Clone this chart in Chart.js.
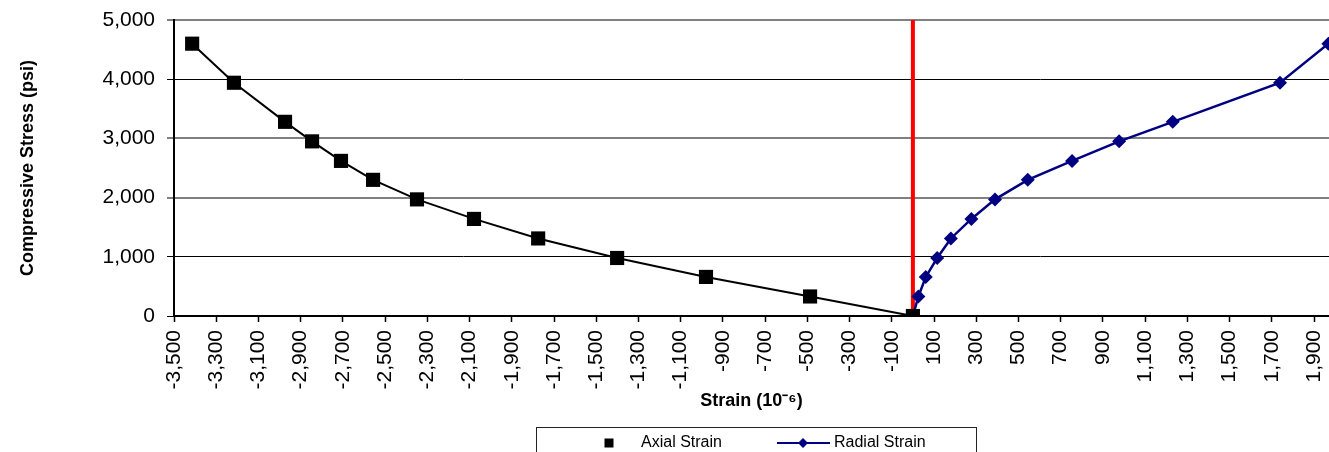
<!DOCTYPE html>
<html>
<head>
<meta charset="utf-8">
<script src="https://cdn.jsdelivr.net/npm/chart.js@4.4.1/dist/chart.umd.min.js"></script>
<style>
  html, body { margin: 0; padding: 0; background: #fff; }
  #wrap { width: 1329px; height: 452px; }
</style>
</head>
<body>
<div id="wrap"><canvas id="grafica" width="1329" height="452"></canvas></div>
<script>
// Stress-strain data
const stressLevels = [4600, 3940, 3280, 2950, 2620, 2300, 1970, 1640, 1310, 980, 660, 330, 0];
const axialStrain = [-3414, -3216, -2974, -2846, -2709, -2557, -2349, -2079, -1775, -1401, -980, -487, 0];
const radialStrain = [1968, 1739, 1231, 977, 754, 544, 389, 277, 180, 115, 61, 26, 0];
const zeroLineY = [0, 5000];
const xTickValues = [-3500, -3300, -3100, -2900, -2700, -2500, -2300, -2100, -1900, -1700,
    -1500, -1300, -1100, -900, -700, -500, -300, -100, 100, 300, 500, 700, 900,
    1100, 1300, 1500, 1700, 1900];
const yTickValues = [0, 1000, 2000, 3000, 4000, 5000];

const FONT = "'Liberation Sans', Arial, sans-serif";
const NAVY = '#000080';

function puntos(xs, ys) {
    return xs.map((x, i) => ({ x, y: ys[i] }));
}

// ===== Legend drawn inside the canvas =====
const leyendaPlugin = {
    id: 'leyenda',
    afterDraw(chart) {
        const ctx = chart.ctx;
        const cy = 443;
        ctx.save();
        ctx.strokeStyle = '#222';
        ctx.lineWidth = 1;
        ctx.strokeRect(536.5, 427.5, 440, 40);

        ctx.fillStyle = '#000';
        ctx.fillRect(604.5, cy - 4.5, 9, 9);

        ctx.strokeStyle = NAVY;
        ctx.lineWidth = 2;
        ctx.beginPath();
        ctx.moveTo(777, cy);
        ctx.lineTo(830, cy);
        ctx.stroke();
        ctx.fillStyle = NAVY;
        ctx.beginPath();
        ctx.moveTo(803, cy - 5);
        ctx.lineTo(808, cy);
        ctx.lineTo(803, cy + 5);
        ctx.lineTo(798, cy);
        ctx.closePath();
        ctx.fill();

        ctx.fillStyle = '#000';
        ctx.font = '16px ' + FONT;
        ctx.textBaseline = 'middle';
        ctx.textAlign = 'left';
        ctx.fillText('Axial Strain', 641, cy);
        ctx.fillText('Radial Strain', 834, cy);
        ctx.restore();
    }
};

new Chart(document.getElementById('grafica'), {
    type: 'scatter',
    data: {
        datasets: [
            {
                label: 'Axial Strain',
                data: puntos(axialStrain, stressLevels),
                showLine: true,
                borderColor: '#000',
                backgroundColor: '#000',
                borderWidth: 2,
                pointStyle: 'rect',
                pointRadius: 10,
                pointBorderWidth: 0,
                tension: 0,
                order: 1
            },
            {
                label: 'Radial Strain',
                data: puntos(radialStrain, stressLevels),
                showLine: true,
                borderColor: NAVY,
                backgroundColor: NAVY,
                borderWidth: 2.5,
                pointStyle: 'rectRot',
                pointRadius: 7,
                pointBorderWidth: 0,
                tension: 0,
                order: 2
            },
            {
                label: 'cero',
                data: puntos([0, 0], zeroLineY),
                showLine: true,
                borderColor: '#ff0000',
                borderWidth: 4,
                pointRadius: 0,
                order: 3
            }
        ]
    },
    options: {
        responsive: false,
        animation: false,
        devicePixelRatio: 1,
        layout: { autoPadding: false, padding: { top: 20, right: 0, left: 0, bottom: 0 } },
        plugins: {
            legend: { display: false },
            tooltip: { enabled: false }
        },
        scales: {
            x: {
                type: 'linear',
                min: -3500,
                max: 1971,
                afterBuildTicks: s => { s.ticks = xTickValues.map(v => ({ value: v })); },
                afterFit: s => { s.height = 136; s.paddingLeft = 0; s.paddingRight = 0; },
                ticks: {
                    autoSkip: false,
                    minRotation: 90,
                    maxRotation: 90,
                    padding: 8,
                    color: '#000',
                    font: { family: FONT, size: 21 },
                    callback: v => v.toLocaleString('en-US')
                },
                grid: { drawOnChartArea: false, drawTicks: true, tickLength: 6, color: '#000', tickWidth: 1.5 },
                border: { display: true, color: '#000', width: 2 },
                title: {
                    display: true,
                    text: 'Strain (10\u207B\u2076)',
                    color: '#000',
                    font: { family: FONT, size: 18, weight: 'bold' },
                    padding: { top: 0, bottom: 40 }
                }
            },
            y: {
                min: 0,
                max: 5000,
                afterBuildTicks: s => { s.ticks = yTickValues.map(v => ({ value: v })); },
                afterFit: s => { s.width = 174; s.paddingTop = 0; s.paddingBottom = 0; },
                ticks: {
                    padding: 12,
                    color: '#000',
                    font: { family: FONT, size: 21 },
                    callback: v => v.toLocaleString('en-US')
                },
                grid: {
                    color: c => ([2000, 3000, 5000].includes(c.tick && c.tick.value) ? '#808080' : '#000'),
                    lineWidth: c => ([2000, 3000, 5000].includes(c.tick && c.tick.value) ? 2 : 1),
                    tickLength: 7,
                    tickColor: '#000',
                    tickWidth: 1
                },
                border: { display: true, color: '#000', width: 2 },
                title: {
                    display: true,
                    text: 'Compressive Stress (psi)',
                    color: '#000',
                    font: { family: FONT, size: 18, weight: 'bold' },
                    padding: { top: 17, bottom: 0 }
                }
            }
        }
    },
    plugins: [leyendaPlugin]
});
</script>
</body>
</html>
